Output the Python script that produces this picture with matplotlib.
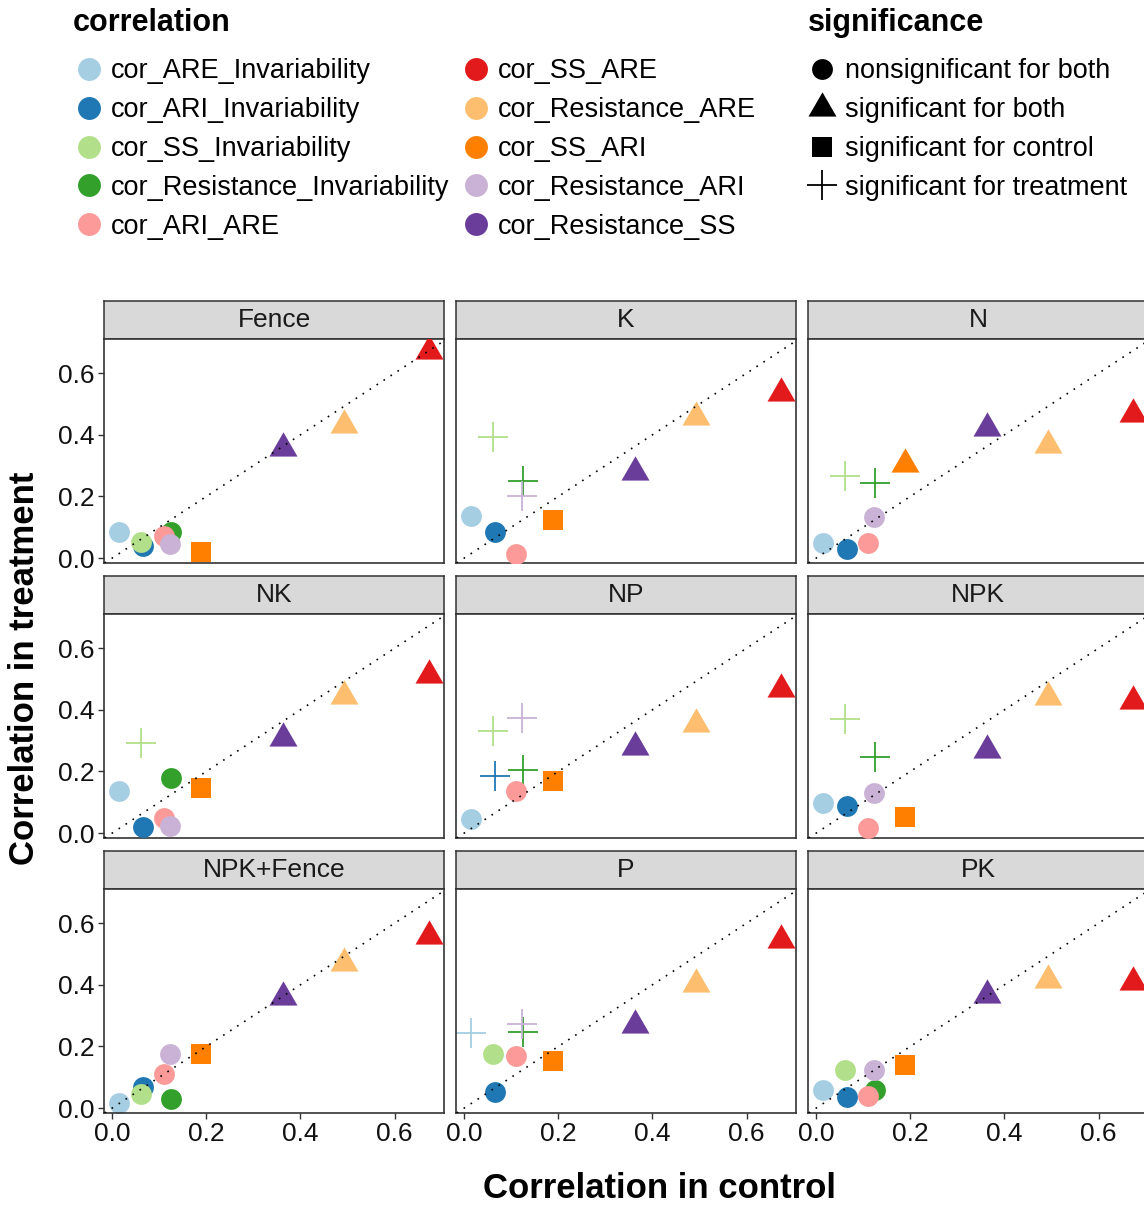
import matplotlib.pyplot as plt

plt.rcParams['font.family'] = ['Liberation Sans', 'DejaVu Sans']

# ---- data -------------------------------------------------------------
treatments = ["Fence", "K", "N", "NK", "NP", "NPK", "NPK+Fence", "P", "PK"]

correlations = ["cor_ARE_Invariability", "cor_ARI_Invariability", "cor_SS_Invariability",
                "cor_Resistance_Invariability", "cor_ARI_ARE", "cor_SS_ARE",
                "cor_Resistance_ARE", "cor_SS_ARI", "cor_Resistance_ARI", "cor_Resistance_SS"]

colors = ["#A6CEE3", "#1F78B4", "#B2DF8A", "#33A02C", "#FB9A99",
          "#E31A1C", "#FDBF6F", "#FF7F00", "#CAB2D6", "#6A3D9A"]

# correlation in control (same for every panel)
control = [0.014, 0.066, 0.062, 0.124, 0.110, 0.673, 0.492, 0.189, 0.122, 0.362]

# correlation in treatment, one list per panel (same order as correlations)
treated = {
    "Fence":     [0.085, 0.038, 0.053, 0.085, 0.070, 0.672, 0.433, 0.020, 0.046, 0.357],
    "K":         [0.138, 0.085, 0.393, 0.250, 0.013, 0.536, 0.459, 0.125, 0.201, 0.279],
    "N":         [0.049, 0.029, 0.266, 0.245, 0.049, 0.467, 0.368, 0.306, 0.132, 0.423],
    "NK":        [0.138, 0.019, 0.292, 0.177, 0.049, 0.514, 0.444, 0.145, 0.024, 0.310],
    "NP":        [0.045, 0.186, 0.332, 0.203, 0.135, 0.468, 0.353, 0.169, 0.374, 0.279],
    "NPK":       [0.098, 0.087, 0.370, 0.246, 0.017, 0.430, 0.441, 0.053, 0.130, 0.271],
    "NPK+Fence": [0.016, 0.068, 0.046, 0.030, 0.109, 0.558, 0.470, 0.174, 0.174, 0.362],
    "P":         [0.245, 0.053, 0.174, 0.246, 0.169, 0.544, 0.404, 0.151, 0.273, 0.268],
    "PK":        [0.059, 0.036, 0.123, 0.059, 0.039, 0.409, 0.414, 0.141, 0.123, 0.368],
}

# n = nonsignificant for both, b = both, c = control, t = treatment
significance = {
    "Fence":     "nnnnnbbcnb",
    "K":         "nnttnbbctb",
    "N":         "nnttnbbbnb",
    "NK":        "nntnnbbcnb",
    "NP":        "ntttnbbctb",
    "NPK":       "nnttnbbcnb",
    "NPK+Fence": "nnnnnbbcnb",
    "P":         "tnntnbbctb",
    "PK":        "nnnnnbbcnb",
}
sig_labels = {"n": "nonsignificant for both", "b": "significant for both",
              "c": "significant for control", "t": "significant for treatment"}
ticks = [0.0, 0.2, 0.4, 0.6]

# ---- layout -----------------------------------------------------------
W, H = 1144, 1206
fig = plt.figure(figsize=(W / 100, H / 100), dpi=100)


def px_axes(left, top, width, height):
    return fig.add_axes([left / W, 1 - (top + height) / H, width / W, height / H])


tri = [(0, 1.155), (-1, -0.577), (1, -0.577)]
shapes = {
    "n": dict(marker="o", s=15 ** 2, linewidths=0),
    "b": dict(marker=tri, s=23.3 ** 2, linewidths=0),
    "c": dict(marker="s", s=15 ** 2, linewidths=0),
    "t": dict(marker="+", s=21.5 ** 2, linewidths=1.3),
}

col_left = [104, 456, 808]
row_top = [301, 576, 851]
strip_h, panel_h, panel_w = 38, 224, 340
edge = "#333333"

for i, name in enumerate(treatments):
    r, c = divmod(i, 3)

    sax = px_axes(col_left[c], row_top[r], panel_w, strip_h)
    sax.set_facecolor("#D9D9D9")
    sax.set_xticks([])
    sax.set_yticks([])
    for sp in sax.spines.values():
        sp.set_color(edge)
        sp.set_linewidth(1.1)
    sax.text(0.5, 0.5, name, ha="center", va="center", fontsize=19,
             color="#1A1A1A", transform=sax.transAxes)

    ax = px_axes(col_left[c], row_top[r] + strip_h, panel_w, panel_h)
    ax.set_xlim(-0.0176, 0.705)
    ax.set_ylim(-0.0162, 0.711)
    for k in range(len(correlations)):
        ax.scatter(control[k], treated[name][k], color=colors[k], zorder=2 + k,
                   **shapes[significance[name][k]])
    ax.axline((0, 0), (0.5, 0.5), color="black", lw=1.2,
              linestyle=(0, (1, 4)), zorder=20)

    ax.set_xticks(ticks)
    ax.set_yticks(ticks)
    ax.set_xticklabels([f"{t:.1f}" for t in ticks])
    ax.set_yticklabels([f"{t:.1f}" for t in ticks])
    ax.tick_params(direction="out", length=4, width=1, color=edge,
                   labelsize=19, labelcolor="#111111", pad=2.5,
                   left=(c == 0), labelleft=(c == 0),
                   bottom=(r == 2), labelbottom=(r == 2))
    for sp in ax.spines.values():
        sp.set_color(edge)
        sp.set_linewidth(1.2)

fig.text(25 / W, 1 - 668 / H, "Correlation in treatment", rotation=90,
         ha="center", va="center", fontsize=25, fontweight="bold")
fig.text(660 / W, 1 - 1188 / H, "Correlation in control",
         ha="center", va="center", fontsize=25, fontweight="bold")

# ---- legends ----------------------------------------------------------
lax = px_axes(0, 0, W, 260)
lax.set_xlim(0, W)
lax.set_ylim(260, 0)
lax.axis("off")

rows_y = [69, 107.7, 146.5, 185.3, 224]
lax.text(73, 31, "correlation", fontsize=22, fontweight="bold", va="baseline")
for k, lab in enumerate(correlations):
    c, r = divmod(k, 5)
    lax.scatter([89, 476][c], rows_y[r], s=16.5 ** 2, color=colors[k], linewidths=0)
    lax.text([110.5, 497.5][c], rows_y[r] + 9.5, lab, fontsize=19.5, va="baseline")

lax.text(808, 31, "significance", fontsize=22, fontweight="bold", va="baseline")
for k, code in enumerate("nbct"):
    lax.scatter(822, rows_y[k], color="black", **shapes[code])
    lax.text(845, rows_y[k] + 9.5, sig_labels[code], fontsize=19.5, va="baseline")

fig.savefig("out.png", dpi=100)
